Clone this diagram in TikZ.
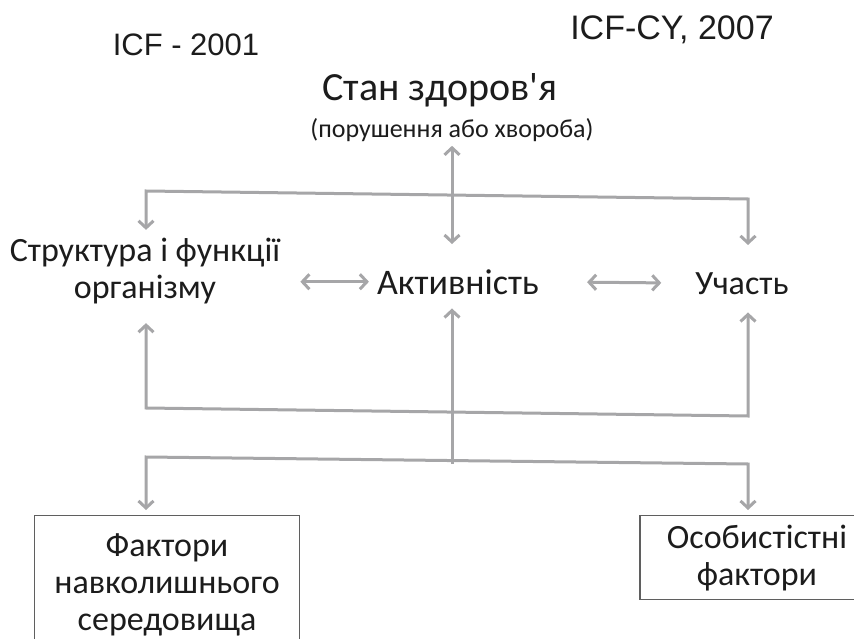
\documentclass[tikz,border=0pt]{standalone}
\usepackage{fontspec}
\setmainfont{Carlito}
\newfontfamily\icffont{Liberation Sans}
\usetikzlibrary{arrows.meta}
\definecolor{arrowgray}{RGB}{166,166,168}
\definecolor{framegray}{RGB}{95,95,95}
\definecolor{inkgray}{RGB}{28,28,28}
\tikzset{
	barb/.tip={Straight Barb[length=7pt,width=15pt]},
	conn/.style={draw=arrowgray, line width=3pt, line join=miter},
	oneway/.style={conn, -barb},
	twoway/.style={conn, barb-barb},
	term/.style={text=inkgray, inner sep=0pt, align=center, font=\fontsize{34}{37}\selectfont},
	factor/.style={term, draw=framegray, line width=1.2pt, font=\fontsize{34}{37}\selectfont},
}
\begin{document}
\begin{tikzpicture}[x=1pt, y=-1pt]
		\useasboundingbox (0,0) rectangle (854,639);
		\clip (0,0) rectangle (854,639);
		%headings
		\node[text=inkgray, font=\icffont\fontsize{31}{36}\selectfont] (icfold) at (186,45) {ICF - 2001};
		\node[text=inkgray, font=\icffont\fontsize{34}{36}\selectfont] (icfnew) at (672,30) {ICF-CY, 2007};
		\node[term, font=\fontsize{40}{42}\selectfont] (health) at (440,90) {Стан здоров\textquotesingle я};
		\node[term, font=\fontsize{26}{30}\selectfont] (disorder) at (452,130) {(порушення або хвороба)};
		
		%middle row
		\node[term] (body) at (145,271) {Структура і функції\\організму};
		\node[term, anchor=base, font=\fontsize{36}{40}\selectfont] (activity) at (458,294) {Активність};
		\node[term, anchor=base] (partic) at (742,294) {Участь};
		
		%factors
		\node[factor, minimum width=265pt, minimum height=138pt, anchor=north] (envir) at (167,515) {Фактори\\навколишнього\\середовища};
		\node[factor, minimum width=234pt, minimum height=84pt, anchor=north] (person) at (757,515) {Особистістні\\фактори};
		
		%junctions
		\coordinate (upL) at (146,191);
		\coordinate (upC) at (452,195);
		\coordinate (upR) at (748,199);
		\coordinate (midL) at (146,408);
		\coordinate (midR) at (748,416);
		\coordinate (lowL) at (146,457);
		\coordinate (lowC) at (452,464);
		\coordinate (lowR) at (748,464);
		
		%links
		\draw[twoway, shorten <=4pt, shorten >=25pt] (disorder.south -| upC) -- (activity.north -| upC);
		\draw[twoway, shorten <=8pt, shorten >=27pt] (body.north -| upL) -- (upL) -- (upR) -- (partic.north -| upR);
		\draw[twoway, shorten <=19pt, shorten >=18pt] (body.south -| midL) -- (midL) -- (midR) -- (partic.south -| midR);
		\draw[oneway, shorten >=14pt] (lowC) -- (activity.south -| lowC);
		\draw[twoway, shorten <=5pt, shorten >=5pt] (envir.north -| lowL) -- (lowL) -- (lowR) -- (person.north -| lowR);
		\draw[twoway, shorten <=20pt, shorten >=8pt] (body.east |- activity) -- (activity.west);
		\draw[twoway, shorten <=48pt, shorten >=34pt] (activity.east) -- (partic.west);
\end{tikzpicture}
\end{document}
